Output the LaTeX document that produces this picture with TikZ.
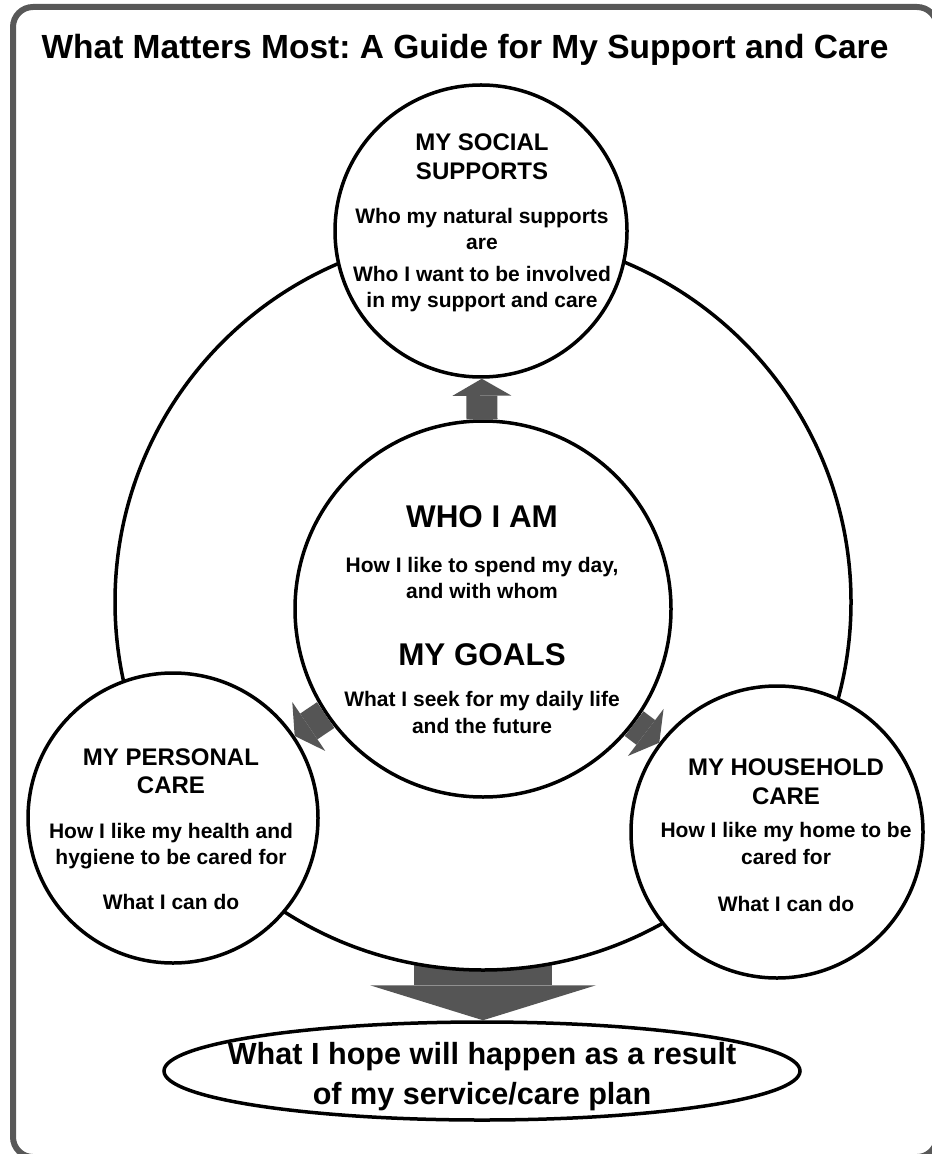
\documentclass[tikz,border=0pt]{standalone}
\usepackage{fontspec}
\setmainfont{Liberation Sans}
\usepackage{xcolor}
\usetikzlibrary{positioning, shapes.geometric, arrows.meta, calc, backgrounds}

\definecolor{framegray}{RGB}{88,88,88}
\definecolor{arrowgray}{RGB}{85,85,85}

\newcommand{\bodyfont}{\fontsize{10.5}{13}\selectfont}
\newcommand{\headfont}{\fontsize{12}{13}\selectfont}
\newcommand{\bigfont}{\fontsize{15.7}{13}\selectfont}
\frenchspacing

\begin{document}
\begin{tikzpicture}[
	x=0.5pt, y=-0.5pt,
	% --- Styles ---
	bubble/.style={
		circle, draw, line width=1.75pt, fill=white, inner sep=0pt
	},
	bubbletext/.style={
		align=center, inner sep=0pt, font=\bfseries\bodyfont
	},
	fatarrow/.style={
		draw, color=arrowgray, line width=15.5pt,
		-{Triangle[width=29.5pt, length=8.5pt, line width=0pt]}
	}
	]
	
	\useasboundingbox (0,0) rectangle (931,1154);
	
	% --- Frame and title ---
	\draw [framegray, line width=3pt, rounded corners=10pt] (13,7) rectangle (937,1157);
	\node [font=\bfseries\fontsize{16.75}{20}\selectfont] (title) at (465,50) {What Matters Most: A Guide for My Support and Care};
	
	% --- Circles ---
	\node [bubble, minimum size=368pt] (ring) at (483,602) {};
	\node [bubble, minimum size=146pt] (social) at (481,231) {};
	\node [bubble, minimum size=188pt] (core) at (483,609) {};
	\node [bubble, minimum size=145pt] (personal) at (173,818) {};
	\node [bubble, minimum size=146pt] (household) at (777,832) {};
	\node [ellipse, draw, line width=1.75pt, fill=white, inner sep=0pt,
		minimum width=318pt, minimum height=49pt] (result) at (482,1071) {};
	
	% --- Texts ---
	\node [bubbletext] (social-text) at (482,223) {\headfont MY SOCIAL\\[1.5pt]\headfont SUPPORTS\\[8.75pt]Who my natural supports\\are\\[3pt]Who I want to be involved\\in my support and care};
	
	\node [bubbletext] (core-text) at (482,620) {\bigfont WHO I AM\\[9.5pt]How I like to spend my day,\\and with whom\\[20.5pt]\bigfont MY GOALS\\[7.5pt]What I seek for my daily life\\[0.5pt]and the future};
	
	\node [bubbletext] (personal-text) at (171,829) {\headfont MY PERSONAL\\[1pt]\headfont CARE\\[9.75pt]How I like my health and\\hygiene to be cared for\\[9.5pt]What I can do};
	
	\node [bubbletext] (household-text) at (786,835) {\headfont MY HOUSEHOLD\\[1.5pt]\headfont CARE\\[3.75pt]How I like my home to be\\[0.5pt]cared for\\[10.5pt]What I can do};
	
	\node [align=center, inner sep=0pt, font=\bfseries\fontsize{15.3}{20}\selectfont] (result-text) at (482,1077) {What I hope will happen as a result\\of my service/care plan};
	
	% --- Arrows between circles ---
	\draw [fatarrow] (core) -- (social);
	\draw [fatarrow] (core) -- (personal);
	\draw [fatarrow] (core) -- (household);
	
	% wide arrow sits behind the ring, so its top end is hidden by the fill
	\begin{scope}[on background layer]
		\draw [fatarrow, line width=69pt, -{Triangle[width=113pt, length=17.5pt, line width=0pt]}]
			($(ring.south)+(0,-10)$) -- (ring.south |- result.north);
	\end{scope}
	
\end{tikzpicture}
\end{document}
